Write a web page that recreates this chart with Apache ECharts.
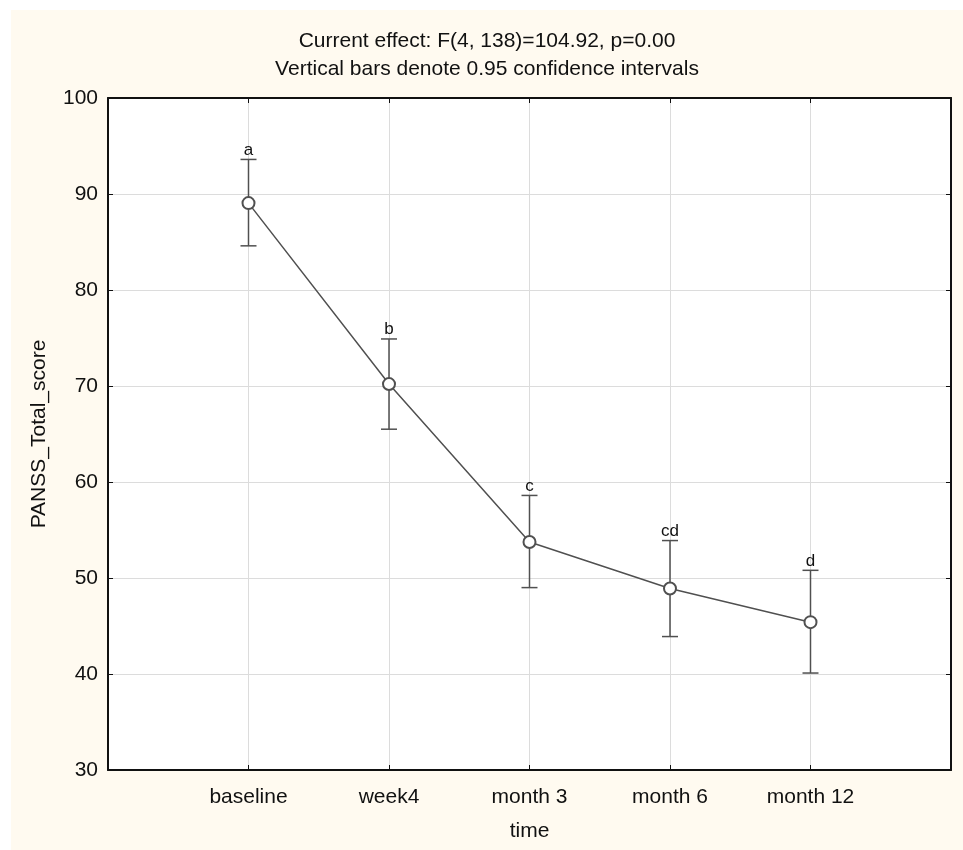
<!DOCTYPE html>
<html>
<head>
<meta charset="utf-8">
<script src="https://cdn.jsdelivr.net/npm/echarts@6/dist/echarts.min.js"></script>
<style>
  body { margin: 0; background: #fff; }
  #chart { position: absolute; left: 11px; top: 10px; width: 952px; height: 840px; background: #fffaf0; }
</style>
</head>
<body>
<div id="chart"></div>
<script>
// time points and group means with 0.95 CI
var categories = ['baseline', 'week4', 'month 3', 'month 6', 'month 12'];
var means = [89.05, 70.2, 53.75, 48.9, 45.4];
var ciLow = [84.6, 65.5, 49.0, 43.9, 40.1];
var ciHigh = [93.6, 74.9, 58.6, 53.9, 50.8];
var letters = ['a', 'b', 'c', 'cd', 'd'];

var font = 'Liberation Sans, Arial, sans-serif';
var lineColor = '#505050';

var lineData = means.map(function (m, i) { return [i + 1, m]; });
var barData = means.map(function (m, i) { return [i + 1, ciLow[i], ciHigh[i], letters[i]]; });

function renderBar(params, api) {
    var x = api.value(0);
    var lo = api.coord([x, api.value(1)]);
    var hi = api.coord([x, api.value(2)]);
    var w = 8;
    var st = { stroke: lineColor, lineWidth: 1.5 };
    return {
        type: 'group',
        children: [
            { type: 'line', shape: { x1: lo[0], y1: lo[1], x2: hi[0], y2: hi[1] }, style: st },
            { type: 'line', shape: { x1: lo[0] - w, y1: lo[1], x2: lo[0] + w, y2: lo[1] }, style: st },
            { type: 'line', shape: { x1: hi[0] - w, y1: hi[1], x2: hi[0] + w, y2: hi[1] }, style: st },
            {
                type: 'text',
                style: {
                    text: letters[params.dataIndex], x: hi[0], y: hi[1] - 1,
                    align: 'center', verticalAlign: 'bottom',
                    font: '17px ' + font, fill: '#111'
                }
            }
        ]
    };
}

var chart = echarts.init(document.getElementById('chart'));
chart.setOption({
    animation: false,
    title: {
        text: 'Current effect: F(4, 138)=104.92, p=0.00\nVertical bars denote 0.95 confidence intervals',
        left: 'center',
        top: 17,
        padding: 0,
        textStyle: { fontFamily: font, fontSize: 21, fontWeight: 'normal', color: '#111', lineHeight: 28 }
    },
    grid: { left: 97, top: 88, right: 12, bottom: 80, show: true, backgroundColor: '#fff', borderWidth: 0 },
    xAxis: [{
        type: 'value',
        min: 0, max: 6, interval: 1,
        name: 'time',
        nameLocation: 'middle',
        nameGap: 51,
        nameTextStyle: { fontFamily: font, fontSize: 21, color: '#111' },
        axisLine: { show: true, onZero: false, lineStyle: { color: '#111', width: 2 } },
        axisTick: { show: true, inside: true, length: 5, lineStyle: { color: '#111' } },
        axisLabel: {
            margin: 17, fontFamily: font, fontSize: 21, color: '#111',
            formatter: function (v) { return categories[v - 1] || ''; }
        },
        splitLine: { show: true, lineStyle: { color: '#dcdcdc' } }
    }, {
        type: 'value',
        position: 'top',
        min: 0, max: 6, interval: 1,
        axisLine: { show: true, onZero: false, lineStyle: { color: '#111', width: 2 } },
        axisTick: { show: true, inside: true, length: 5, lineStyle: { color: '#111' } },
        axisLabel: { show: false },
        splitLine: { show: false }
    }],
    yAxis: [{
        type: 'value',
        min: 30, max: 100, interval: 10,
        name: 'PANSS_Total_score',
        nameLocation: 'middle',
        nameGap: 58,
        nameTextStyle: { fontFamily: font, fontSize: 21, color: '#111' },
        axisLine: { show: true, onZero: false, lineStyle: { color: '#111', width: 2 } },
        axisTick: { show: true, inside: true, length: 5, lineStyle: { color: '#111' } },
        axisLabel: { margin: 10, fontFamily: font, fontSize: 21, color: '#111' },
        splitLine: { show: true, lineStyle: { color: '#dcdcdc' } }
    }, {
        type: 'value',
        position: 'right',
        min: 30, max: 100, interval: 10,
        axisLine: { show: true, onZero: false, lineStyle: { color: '#111', width: 2 } },
        axisTick: { show: true, inside: true, length: 5, lineStyle: { color: '#111' } },
        axisLabel: { show: false },
        splitLine: { show: false }
    }],
    series: [{
        type: 'custom',
        renderItem: renderBar,
        data: barData,
        encode: { x: 0, y: [1, 2] },
        z: 2
    }, {
        type: 'line',
        data: lineData,
        symbol: 'emptyCircle',
        symbolSize: 12,
        itemStyle: { color: lineColor, borderWidth: 1.5 },
        lineStyle: { color: lineColor, width: 1.5 },
        z: 3
    }]
});
</script>
</body>
</html>
